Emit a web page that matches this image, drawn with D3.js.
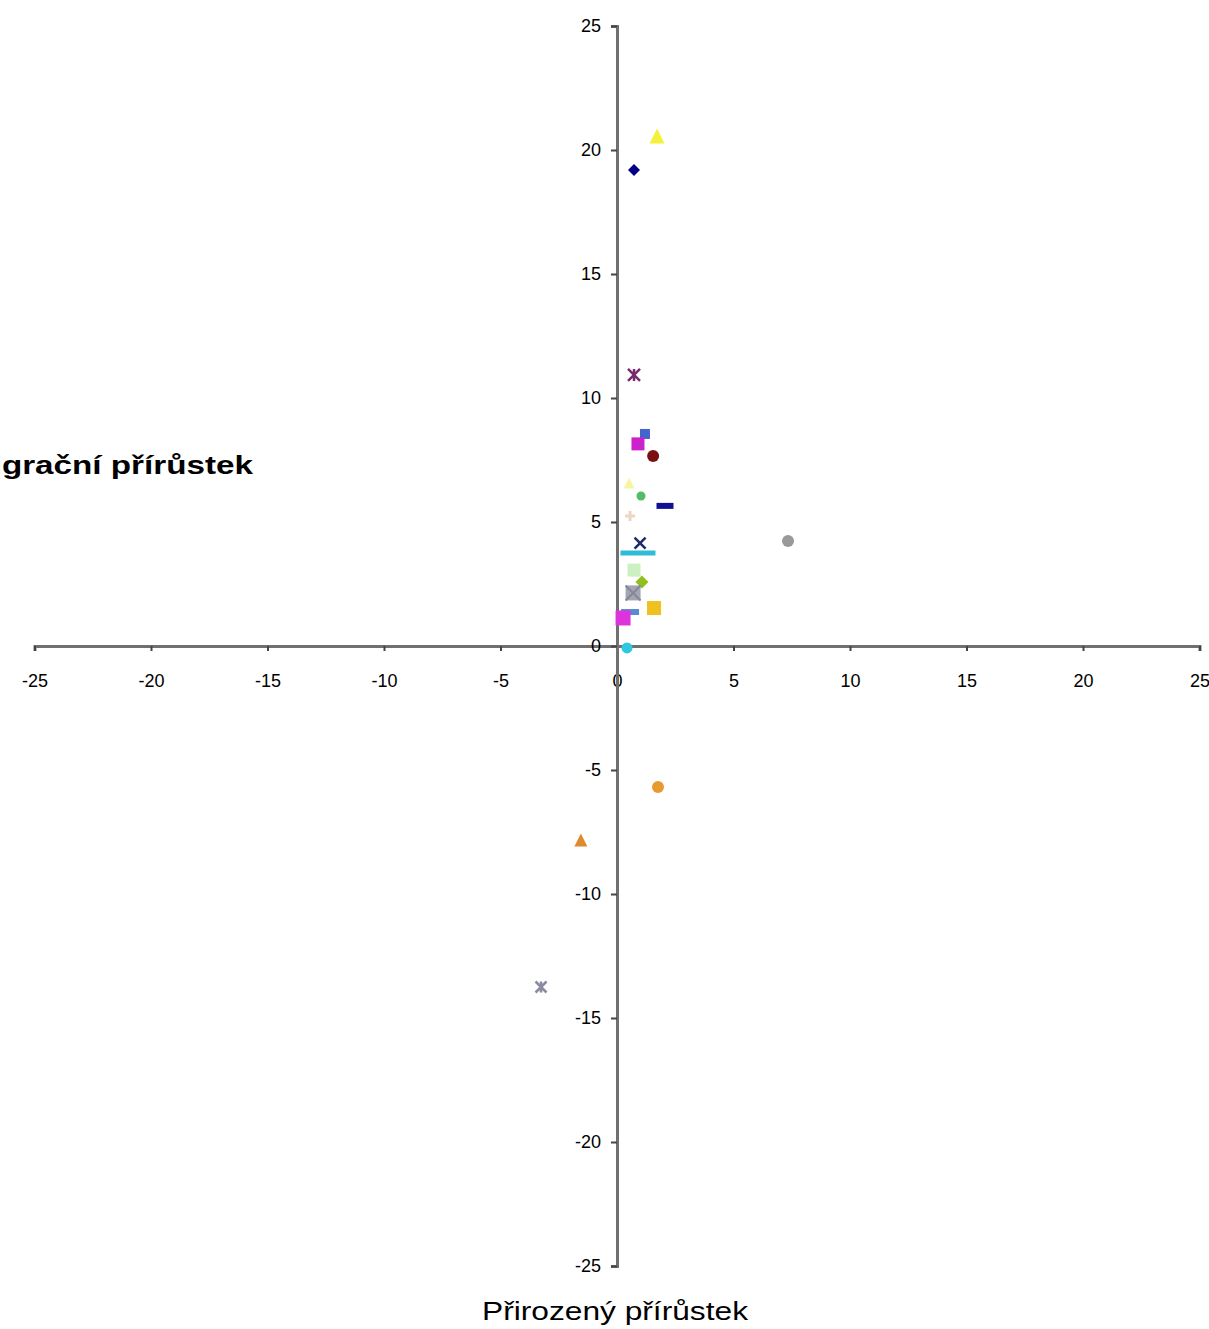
<!DOCTYPE html>
<html>
<head>
<meta charset="utf-8">
<script src="https://cdn.jsdelivr.net/npm/d3@7"></script>
<style>
html,body{margin:0;padding:0;background:#fff;}
svg{display:block;}
</style>
</head>
<body>
<svg id="chart" width="1209" height="1329"></svg>
<script>
// ---- data ----
const pointIds = ["s1","s2","s3","s4","s5","s6","s7","s8","s9","s10","s11","s12","s13","s14","s15","s16","s17","s18","s19","s20","s21","s22","s23"];
const naturalIncrease = [0.73, 1.72, 0.73, 1.20, 0.90, 1.55, 0.52, 1.03, 2.06, 0.56, 0.99, 0.90, 0.73, 1.07, 0.69, 1.59, 0.56, 0.26, 0.43, 7.34, 1.76, -1.55, -3.26];
const migrationIncrease = [19.19, 20.56, 10.93, 8.55, 8.15, 7.66, 6.57, 6.05, 5.65, 5.24, 4.15, 3.75, 3.06, 2.58, 2.14, 1.53, 1.37, 1.13, -0.08, 4.23, -5.69, -7.82, -13.75];
const tickValues = [-25, -20, -15, -10, -5, 0, 5, 10, 15, 20, 25];
const xAxisTitle = "Přirozený přírůstek";
const yAxisTitle = "Migrační přírůstek";

// ---- styles ----
const markerShapes = ["diamond","triangle","star","square","square","circle","triangle","circle","dash","plus","x","longdash","square","diamond","xsquare","square","dash","square","circle","circle","circle","triangle","star"];
const markerColors = ["#000080","#f2f23a","#7a2a6e","#4466cc","#cc22cc","#7a1010","#f6f6a0","#55bb66","#101090","#ecd8c0","#1a2a6a","#30bcd6","#ccf0c0","#90c020","#a4a4b8","#f0c020","#5a8ad0","#dd33dd","#30c8e0","#999999","#e89a30","#e08a30","#8a8aa0"];
const markerSizes = [12,15,12,10,13,12,11,9,17,10,11,35,13,13,15,14,18,15,11,12,12,13,11];

const svg = d3.select("#chart");
const x = d3.scaleLinear().domain([-25, 25]).range([34.5, 1199.5]);
const y = d3.scaleLinear().domain([-25, 25]).range([1266, 26]);

const axisColor = "#707070";
const font = "'Liberation Sans', Arial, sans-serif";

// x axis
const gx = svg.append("g").attr("transform", `translate(0,${y(0)})`)
  .call(d3.axisBottom(x).tickValues(tickValues).tickSize(5).tickPadding(23).tickFormat(d3.format("d")));
gx.select(".domain").attr("stroke", axisColor).attr("stroke-width", 3);
gx.selectAll(".tick line").attr("stroke", "#444").attr("stroke-width", 2);
gx.selectAll(".tick text").attr("font-family", font).attr("font-size", 18).attr("fill", "#000")
  .text(d => d < 0 ? "-" + Math.abs(d) : d);

// y axis
const gy = svg.append("g").attr("transform", `translate(${x(0)},0)`)
  .call(d3.axisLeft(y).tickValues(tickValues).tickSize(6).tickPadding(10).tickFormat(d3.format("d")));
gy.select(".domain").attr("stroke", axisColor).attr("stroke-width", 3);
gy.selectAll(".tick line").attr("stroke", "#444").attr("stroke-width", 2);
gy.selectAll(".tick text").attr("font-family", font).attr("font-size", 18).attr("fill", "#000")
  .text(d => d < 0 ? "-" + Math.abs(d) : d);

// titles
svg.append("text").attr("x", 253).attr("y", 474).attr("text-anchor", "end")
  .attr("font-family", font).attr("font-weight", "bold").attr("font-size", 26)
  .attr("textLength", 288).attr("lengthAdjust", "spacingAndGlyphs").text(yAxisTitle);
svg.append("text").attr("x", 615).attr("y", 1320).attr("text-anchor", "middle")
  .attr("font-family", font).attr("font-size", 25)
  .attr("textLength", 266).attr("lengthAdjust", "spacingAndGlyphs").text(xAxisTitle);

// markers
const pts = pointIds.map((id, i) => ({id, vx: naturalIncrease[i], vy: migrationIncrease[i], shape: markerShapes[i], color: markerColors[i], size: markerSizes[i]}));
const g = svg.append("g");
pts.forEach(p => {
  const cx = x(p.vx), cy = y(p.vy), s = p.size, h = s / 2;
  const m = g.append("g").attr("transform", `translate(${cx},${cy})`);
  switch (p.shape) {
    case "diamond":
      m.append("path").attr("d", `M0,${-h}L${h},0L0,${h}L${-h},0Z`).attr("fill", p.color); break;
    case "square":
      m.append("rect").attr("x", -h).attr("y", -h).attr("width", s).attr("height", s).attr("fill", p.color); break;
    case "triangle":
      m.append("path").attr("d", `M0,${-h}L${h},${h}L${-h},${h}Z`).attr("fill", p.color); break;
    case "circle":
      m.append("circle").attr("r", h).attr("fill", p.color); break;
    case "dash":
      m.append("rect").attr("x", -h).attr("y", -3).attr("width", s).attr("height", 6).attr("fill", p.color); break;
    case "longdash":
      m.append("rect").attr("x", -h).attr("y", -2.5).attr("width", s).attr("height", 5).attr("fill", p.color); break;
    case "plus":
      m.append("path").attr("d", `M${-h},0H${h}M0,${-h}V${h}`).attr("stroke", p.color).attr("stroke-width", 3); break;
    case "x":
      m.append("path").attr("d", `M${-h},${-h}L${h},${h}M${h},${-h}L${-h},${h}`).attr("stroke", p.color).attr("stroke-width", 2.5); break;
    case "xsquare":
      m.append("rect").attr("x", -h).attr("y", -h).attr("width", s).attr("height", s).attr("fill", p.color);
      m.append("path").attr("d", `M${-h},${-h}L${h},${h}M${h},${-h}L${-h},${h}`).attr("stroke", "#888890").attr("stroke-width", 2); break;
    case "star":
      m.append("path").attr("d", `M${-h},${-h}L${h},${h}M${h},${-h}L${-h},${h}M0,${-h}V${h}`).attr("stroke", p.color).attr("stroke-width", 2.5); break;
  }
});
</script>
</body>
</html>
